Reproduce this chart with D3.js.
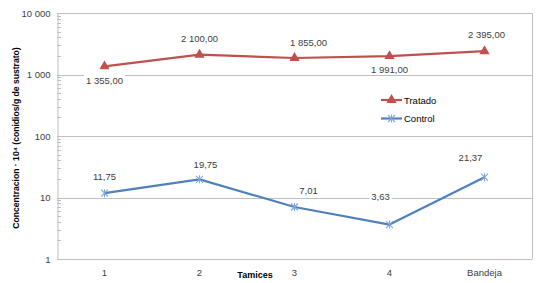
<!DOCTYPE html>
<html><head><meta charset="utf-8">
<script src="https://cdn.jsdelivr.net/npm/d3@7"></script>
<style>body{margin:0;background:#fff}svg{display:block}</style>
</head><body>
<script>
const categories = ["1","2","3","4","Bandeja"];
const tratado = [1355, 2100, 1855, 1991, 2395];
const control = [11.75, 19.75, 7.01, 3.63, 21.37];
const yTicks = [1, 10, 100, 1000, 10000];
const seriesNames = ["Tratado","Control"];
// label placement (dx, dy relative to point)
const tratadoLabelPos = [[0,14],[0,-16],[14,-15],[0,13],[2,-17]];
const controlLabelPos = [[0,-17],[6,-15],[14,-16],[-9,-28],[-14,-20]];

const W=549,H=283;
const m={l:57,r:17,t:13,b:24};
const svg=d3.select("body").append("svg").attr("width",W).attr("height",H);
const x=d3.scaleBand().domain(categories).range([m.l,W-m.r]);
const y=d3.scaleLog().domain([1,10000]).range([H-m.b,m.t]);
const loc=d3.formatLocale({decimal:",",thousands:"\u00a0",grouping:[3]});
const fTick=loc.format(",d"), fVal=loc.format(",.2f");
const font="'Liberation Sans', Arial, sans-serif";
const grid="#bfbfbf";

// gridlines
svg.append("g").selectAll("line").data(yTicks).join("line")
  .attr("x1",m.l).attr("x2",W-m.r).attr("y1",d=>Math.round(y(d))+0.5).attr("y2",d=>Math.round(y(d))+0.5)
  .attr("stroke",grid).attr("stroke-width",1);
// right border
svg.append("line").attr("x1",W-m.r+0.5).attr("x2",W-m.r+0.5).attr("y1",m.t).attr("y2",H-m.b).attr("stroke",grid);
// y axis
const ya=d3.axisLeft(y).tickValues(yTicks).tickFormat(d=>fTick(d)).tickSize(0).tickPadding(7);
const gy=svg.append("g").attr("transform",`translate(${m.l+0.5},0)`).call(ya);
gy.select(".domain").attr("stroke",grid);
gy.selectAll("text").attr("font-family",font).attr("font-size","9.5px").attr("fill","#404040");
// minor ticks
const minor=[];
for(let e=0;e<4;e++)for(let k=2;k<=9;k++)minor.push(k*Math.pow(10,e));
svg.append("g").selectAll("line").data(minor).join("line")
  .attr("x1",m.l).attr("x2",m.l+4).attr("y1",d=>Math.round(y(d))+0.5).attr("y2",d=>Math.round(y(d))+0.5)
  .attr("stroke",grid);
// x axis labels
const xa=d3.axisBottom(x).tickSize(0).tickPadding(10);
const gx=svg.append("g").attr("transform",`translate(0,${H-m.b})`).call(xa);
gx.select(".domain").attr("stroke",grid);
gx.selectAll("text").attr("font-family",font).attr("font-size","9.5px").attr("fill","#404040");

// axis titles
svg.append("text").attr("x",255).attr("y",278).attr("text-anchor","middle")
  .attr("font-family",font).attr("font-size","9px").attr("font-weight","bold").attr("fill","#000").text("Tamices");
svg.append("text").attr("transform",`translate(19,${(m.t+H-m.b)/2+2}) rotate(-90)`).attr("text-anchor","middle")
  .attr("font-family",font).attr("font-size","8.6px").attr("font-weight","bold").attr("fill","#000")
  .text("Concentracion · 10\u2074 (conidios/g de sustrato)");

const series=[
  {name:seriesNames[0],vals:tratado,color:"#C0504D",pos:tratadoLabelPos,marker:"tri"},
  {name:seriesNames[1],vals:control,color:"#4F81BD",pos:controlLabelPos,marker:"star"}
];
const cx=c=>x(c)+x.bandwidth()/2;
const line=d3.line().x((d,i)=>cx(categories[i])).y(d=>y(d));

function marker(g,type,color,px,py){
  if(type==="tri"){
    g.append("path").attr("d",d3.symbol(d3.symbolTriangle,46)()).attr("transform",`translate(${px},${py})`).attr("fill",color);
  } else {
    const s=3.5;
    const p=`M${-s},${-s}L${s},${s}M${-s},${s}L${s},${-s}M0,${-s-0.5}L0,${s+0.5}`;
    g.append("path").attr("d",p).attr("transform",`translate(${px},${py})`).attr("stroke","#7ea6d8").attr("stroke-width",1.1).attr("fill","none");
  }
}

series.forEach(s=>{
  svg.append("path").datum(s.vals).attr("d",line).attr("fill","none").attr("stroke",s.color).attr("stroke-width",2.2).attr("stroke-linejoin","round");
  const g=svg.append("g");
  s.vals.forEach((v,i)=>marker(g,s.marker,s.color,cx(categories[i]),y(v)));
  // labels
  s.vals.forEach((v,i)=>{
    const lg=svg.append("g");
    const t=lg.append("text").attr("x",cx(categories[i])+s.pos[i][0]).attr("y",y(v)+s.pos[i][1]+3.5)
      .attr("text-anchor","middle").attr("font-family",font).attr("font-size","9.5px").attr("fill","#404040").text(fVal(v));
    const bb=t.node().getBBox();
    lg.insert("rect","text").attr("x",bb.x-2).attr("y",bb.y).attr("width",bb.width+4).attr("height",bb.height).attr("fill","#fff");
  });
});

// legend
const leg=svg.append("g");
series.forEach((s,i)=>{
  const ly=100+i*18.5;
  leg.append("line").attr("x1",381).attr("x2",402).attr("y1",ly).attr("y2",ly).attr("stroke",s.color).attr("stroke-width",2.2);
  marker(leg,s.marker,s.color,391.5,ly);
  leg.append("text").attr("x",404).attr("y",ly+3.5).attr("font-family",font).attr("font-size","9.5px").attr("fill","#000").text(s.name);
});
</script>
</body></html>
